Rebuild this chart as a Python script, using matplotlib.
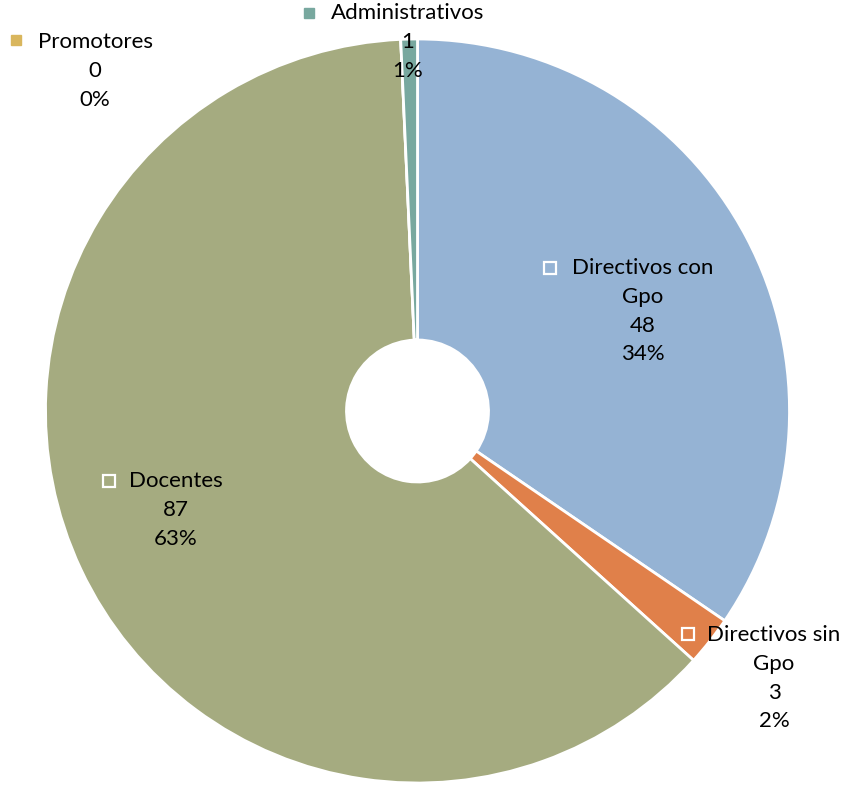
import matplotlib
matplotlib.use("Agg")
import matplotlib.pyplot as plt

# datos del gráfico
categorias = [["Directivos con", "Gpo"], ["Directivos sin", "Gpo"], ["Docentes"], ["Promotores"], ["Administrativos"]]
valores = [48, 3, 87, 0, 1]
porcentajes = ["34%", "2%", "63%", "0%", "1%"]
colores = ["#95B3D4", "#E0804A", "#A5AB80", "#D9B65D", "#78A89F"]

W, H = 846, 792
plt.rcParams['font.family'] = ['Lato', 'DejaVu Sans']

fig = plt.figure(figsize=(W / 100, H / 100), dpi=100)
ax = fig.add_axes([0, 0, 1, 1])

cx, cy, r, r_in = 417.5, H - 411, 372, 71
ax.pie(valores, colors=colores, startangle=90, counterclock=False,
       center=(cx, cy), radius=r, frame=True,
       wedgeprops=dict(width=r - r_in, edgecolor="white", linewidth=2))
ax.set_xlim(0, W)
ax.set_ylim(0, H)
ax.set_aspect("equal")
ax.axis("off")

# posiciones de etiquetas (píxeles): centro x, y primera línea, marcador x, y
etiquetas = [
    (643, 268, 550, 268, False),
    (774, 635, 688, 634, False),
    (176, 481, 109, 481, False),
    (95, 42, 16, 40, True),
    (408, 13, 309, 13, True),
]
paso = 28.8
for i, (tx, ty, mx, my, lleno) in enumerate(etiquetas):
    lineas = categorias[i] + [str(valores[i]), porcentajes[i]]
    for k, linea in enumerate(lineas):
        ax.text(tx, H - (ty + k * paso), linea, ha="center", va="center",
                fontsize=16, color="black")
    if lleno:
        ax.plot(mx, H - my, marker="s", ms=7.5, color=colores[i], mec=colores[i])
    else:
        ax.plot(mx, H - my, marker="s", ms=8.5, mfc="none", mec="white", mew=1.6)

fig.savefig("out.png", dpi=100)
